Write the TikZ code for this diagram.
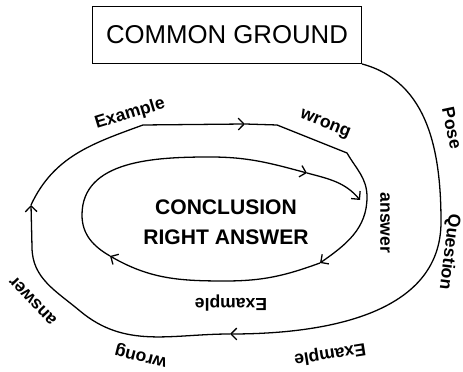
\documentclass[tikz,border=0pt]{standalone}
\usepackage{fontspec}
\setmainfont{Liberation Sans}
\usetikzlibrary{arrows.meta}

\begin{document}
\begin{tikzpicture}[x=0.3mm, y=0.3mm,
    spiral/.style={line width=1.1pt, line join=round},
    tip/.style={-{Straight Barb[length=5pt, width=10pt]}},
    lbl/.style={font=\fontsize{15}{17}\selectfont\bfseries, inner sep=0pt}]
    \useasboundingbox (0,0) rectangle (463,372);

    % common ground
    \node[draw, line width=0.8pt, minimum width=80.7mm, minimum height=17.1mm,
        font=\fontsize{22}{26}\selectfont] (cg) at (227,337) {COMMON GROUND};

    % conclusion
    \node[align=center, font=\fontsize{18}{25.5}\selectfont\bfseries] (concl) at (226,150)
        {CONCLUSION\\RIGHT ANSWER};

    % arrow points of the spiral
    \coordinate (a1) at (230,38);
    \coordinate (a2) at (31,167);
    \coordinate (a3) at (245,248);
    \coordinate (a4) at (320,109);
    \coordinate (a5) at (110,116);
    \coordinate (a6) at (307,199);
    \coordinate (fin) at (360,172);

    % spiral
    \draw[spiral, tip] (cg.south east) to[out=-15, in=90] (441,150)
        to[out=-90, in=0] (a1);
    \draw[spiral, tip] (a1) to[out=180, in=-40] (80,61) to[out=140, in=-90] (32,125) -- (a2);
    \draw[spiral, tip] (a2) to[out=65, in=200] (143,247) -- (a3);
    \draw[spiral, tip] (a3) -- (277,247) -- (347,219) to[out=-60, in=90] (367,175)
        to[out=-90, in=35] (a4);
    \draw[spiral, tip] (a4) to[out=200, in=0] (225,91) to[out=180, in=-30] (a5);
    \draw[spiral, tip] (a5) to[out=150, in=-90] (82,157) to[out=90, in=180] (210,215)
        to[out=0, in=165] (a6);
    \draw[spiral, tip] (a6) to[out=-15, in=130] (fin);

    % labels
    \node[lbl, rotate=17] (exa) at (130,258) {Example};
    \node[lbl, rotate=-22] (wra) at (325,247) {wrong};
    \node[lbl, rotate=-78] (pose) at (452,244) {Pose};
    \node[lbl, rotate=-97] (quest) at (449,120) {Question};
    \node[lbl, rotate=-90] (ansa) at (385,149) {answer};
    \node[lbl, rotate=180] (exb) at (231,69) {Example};
    \node[lbl, rotate=189] (exc) at (330,18) {Example};
    \node[lbl, rotate=166] (wrb) at (141,17) {wrong};
    \node[lbl, rotate=134] (ansb) at (33,71) {answer};
\end{tikzpicture}
\end{document}
